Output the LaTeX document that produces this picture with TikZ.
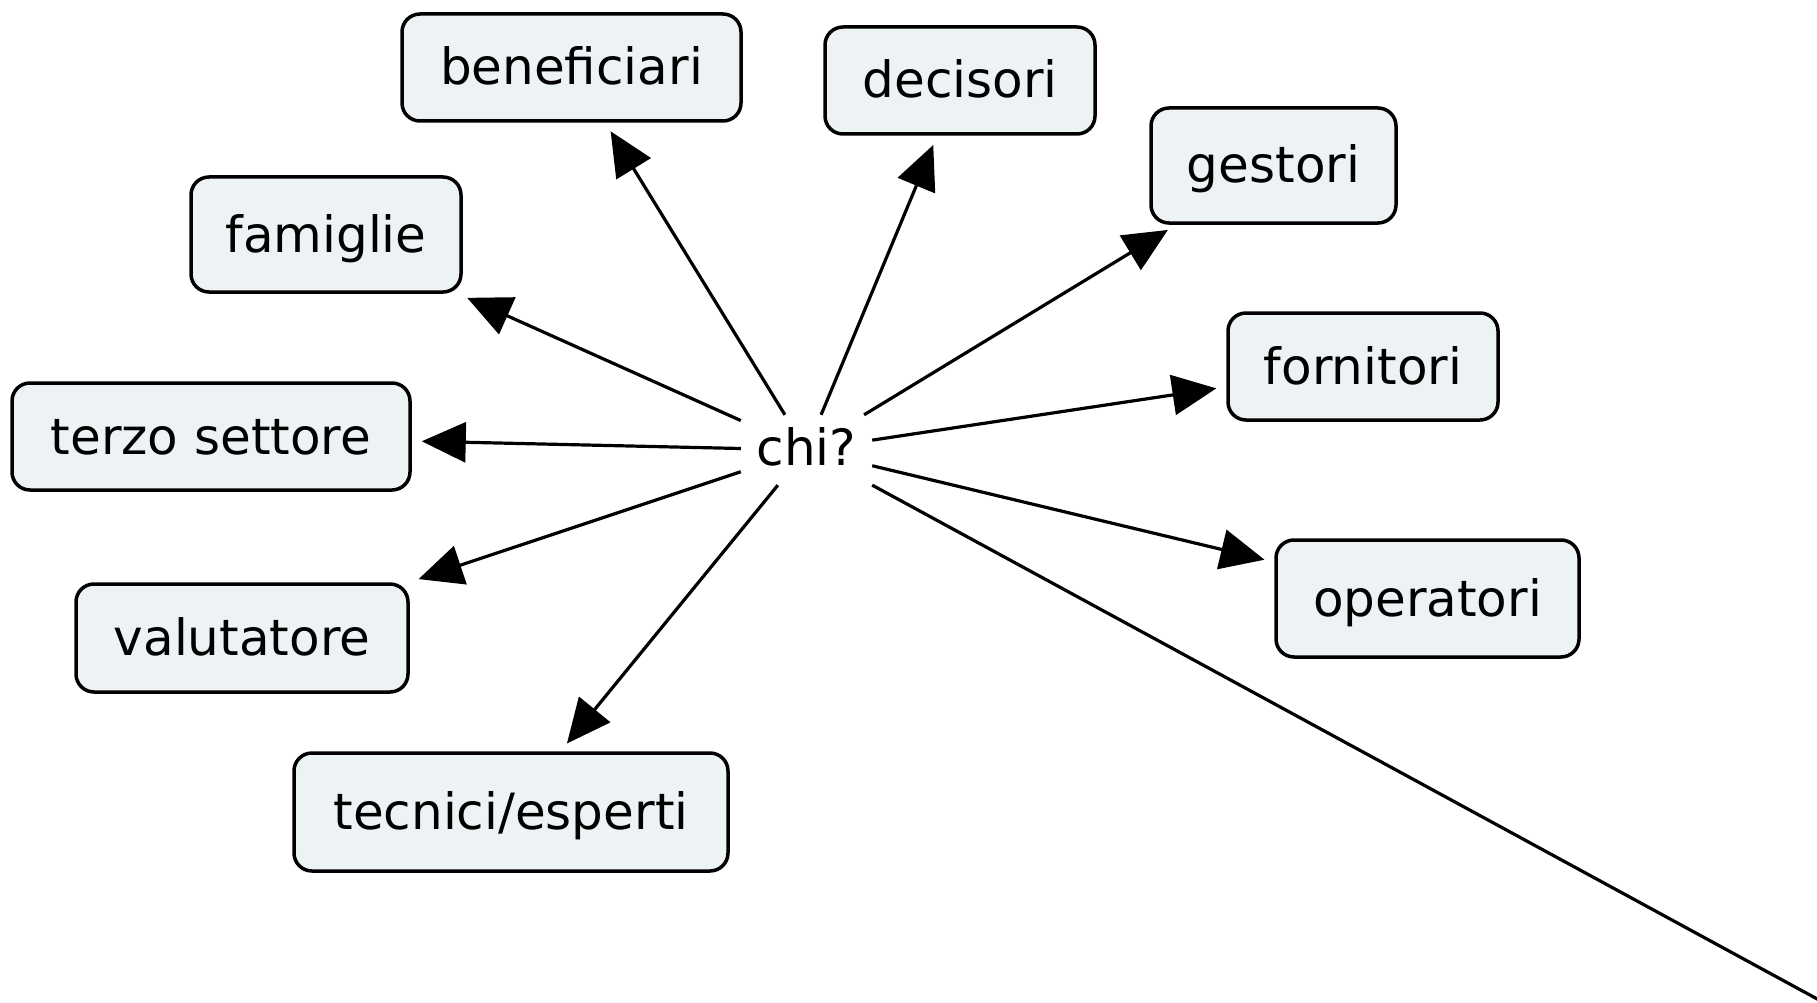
\documentclass[tikz,border=0pt]{standalone}
\usepackage{fontspec}
\setmainfont{DejaVu Sans}
\usetikzlibrary{arrows.meta}
\definecolor{boxfill}{RGB}{237,242,245}
\begin{document}
\begin{tikzpicture}[x=1pt,y=-1pt,
  concept/.style={draw=black, line width=3.5pt, fill=boxfill, rounded corners=18pt,
    inner sep=0pt, text height=45pt, text depth=10pt,
    font=\fontsize{50}{60}\selectfont},
  hub/.style={inner sep=0pt, minimum width=131pt, minimum height=70pt,
    text height=42pt, text depth=12pt, font=\fontsize{50}{60}\selectfont},
  link/.style={line width=3.2pt, -{Triangle[length=44pt,width=40pt]}, shorten >=10pt},
  plainlink/.style={line width=3.2pt}]
\useasboundingbox (0,0) rectangle (1817,1003);
\clip (0,0) rectangle (1817,1003);
\fill[white] (0,0) rectangle (1817,1003);

\node[hub] (chi) at (806.5,450) {chi?};

\node[concept, minimum width=339pt, minimum height=107pt] (benef) at (571.5,67.5) {beneficiari};
\node[concept, minimum width=270pt, minimum height=107pt] (decis) at (960,80.5) {decisori};
\node[concept, minimum width=245pt, minimum height=115pt] (gest) at (1273.5,165.5) {gestori};
\node[concept, minimum width=270pt, minimum height=115pt] (famig) at (326,234.5) {famiglie};
\node[concept, minimum width=270pt, minimum height=107pt] (forn) at (1363,366.5) {fornitori};
\node[concept, minimum width=398pt, minimum height=107pt] (terzo) at (211,436.5) {terzo settore};
\node[concept, minimum width=303pt, minimum height=117pt] (oper) at (1427.5,598.5) {operatori};
\node[concept, minimum width=332pt, minimum height=108pt] (valut) at (242,638) {valutatore};
\node[concept, minimum width=434pt, minimum height=118pt] (tecn) at (511,812) {tecnici/esperti};

\coordinate (offpage) at (1900,1044);

\draw[link] (chi) -- (benef);
\draw[link] (chi) -- (decis);
\draw[link] (chi) -- (gest);
\draw[link] (chi) -- (famig);
\draw[link] (chi) -- (forn);
\draw[link] (chi) -- (terzo);
\draw[link] (chi) -- (oper);
\draw[link] (chi) -- (valut);
\draw[link] (chi) -- (tecn);
\draw[plainlink] (chi) -- (offpage);
\end{tikzpicture}
\end{document}
